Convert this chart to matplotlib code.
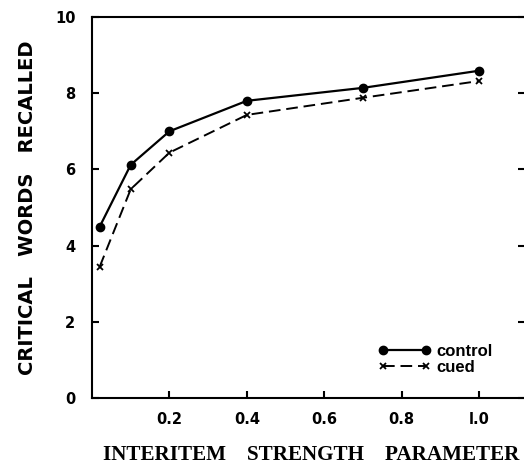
import numpy as np
import matplotlib.pyplot as plt

# values
strength = [0.02, 0.1, 0.2, 0.4, 0.7, 1.0]
control = [4.5, 6.12, 7.0, 7.8, 8.14, 8.59]
cued = [3.45, 5.48, 6.44, 7.43, 7.88, 8.32]
xticks = [0.2, 0.4, 0.6, 0.8, 1.0]
xticklabels = ["0.2", "0.4", "0.6", "0.8", "l.0"]
yticks = [0, 2, 4, 6, 8, 10]

fig = plt.figure(figsize=(5.24, 4.68), dpi=100)
ax = fig.add_axes([0.1756, 0.1496, 0.826, 0.8141])

ax.plot(strength, control, color="black", lw=1.6, marker="o", ms=6,
        label="control")
ax.plot(strength, cued, color="black", lw=1.4, dashes=(6, 3), marker="x",
        ms=4.5, mew=1.3, label="cued")

ax.set_xlim(0, 1.118)
ax.set_ylim(0, 10)
ax.set_xticks(xticks)
ax.set_xticklabels(xticklabels)
ax.set_yticks(yticks)
ax.tick_params(direction="in", length=5, width=1.5, labelsize=10.5,
               right=True, top=False)
for lab in ax.get_xticklabels() + ax.get_yticklabels():
    lab.set_fontweight("bold")
    lab.set_family("DejaVu Sans")
ax.tick_params(axis="x", pad=10)
ax.tick_params(axis="y", pad=12)
for s in ["left", "bottom", "top"]:
    ax.spines[s].set_linewidth(1.5)
ax.spines["right"].set_visible(False)

ax.set_ylabel("CRITICAL   WORDS   RECALLED", fontsize=14, fontweight="bold",
              family="DejaVu Sans", labelpad=13)
fig.text(0.593, 0.006, "INTERITEM    STRENGTH    PARAMETER", fontsize=15.2,
         fontweight="bold", family="Liberation Serif", ha="center", va="bottom")

leg = ax.legend(loc="lower left", bbox_to_anchor=(0.625, 0.022), frameon=False,
                numpoints=2, handlelength=3.2, handletextpad=0.35,
                labelspacing=0.05, prop={"family": "Liberation Sans",
                                         "weight": "bold", "size": 12})

fig.savefig("out.png", dpi=100)
